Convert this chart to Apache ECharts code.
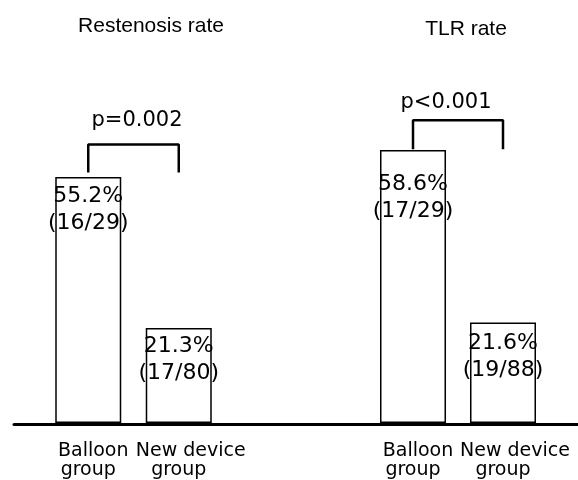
<!DOCTYPE html>
<html>
<head>
<meta charset="utf-8">
<script src="https://cdn.jsdelivr.net/npm/echarts@6/dist/echarts.min.js"></script>
<style>
  html, body { margin: 0; padding: 0; background: #fff; }
  #chart { width: 578px; height: 480px; }
</style>
</head>
<body>
<div id="chart"></div>
<script>
// data
const categories = ["Balloon group", "New device group"];
const restenosisRate = [55.2, 21.3];
const restenosisCounts = ["16/29", "17/80"];
const tlrRate = [58.6, 21.6];
const tlrCounts = ["17/29", "19/88"];
const pValues = ["p=0.002", "p<0.001"];
const bracketTop = [62.5, 65];      // height of the bracket bar
const bracketFoot = [56.2, 58.8];   // where the bracket legs stop

// layout only
const labelGap = [[6, 5], [21, 7]];
const FONT = "DejaVu Sans";

function barData(rates, counts, gaps) {
  return rates.map(function (v, i) {
    return {
      value: v,
      count: counts[i],
      label: { distance: gaps[i] },
    };
  });
}

function bracket(i) {
  return [
    [0, bracketFoot[i]],
    [0, bracketTop[i]],
    [1, bracketTop[i]],
    [1, bracketFoot[i]],
  ];
}

const barStyle = {
  color: "#fff",
  borderColor: "#000",
  borderWidth: 1.5,
};
const barLabel = {
  show: true,
  position: "insideTop",
  color: "#000",
  fontFamily: FONT,
  fontSize: 22,
  lineHeight: 27,
  formatter: function (p) {
    return p.value + "%\n(" + p.data.count + ")";
  },
};

function catAxis(gridIndex) {
  return {
    type: "category",
    gridIndex: gridIndex,
    data: categories,
    axisLine: { show: false },
    axisTick: { show: false },
    axisLabel: {
      color: "#000",
      fontFamily: FONT,
      fontSize: 19,
      lineHeight: 19,
      margin: 19,
      interval: 0,
      formatter: function (name, i) {
        let words = name.split(" ");
        let last = words.pop();
        let first = words.join(" ");
        return "{f" + i + "|" + first + "}\n{g|" + last + "}";
      },
      rich: {
        f0: { fontFamily: FONT, fontSize: 19, padding: [0, 0, 0, 10] },
        f1: { fontFamily: FONT, fontSize: 19, padding: [0, 0, 0, 24] },
        g: { fontFamily: FONT, fontSize: 19 },
      },
    },
  };
}

function valAxis(gridIndex, max) {
  return {
    type: "value",
    gridIndex: gridIndex,
    min: 0,
    max: max,
    show: false,
  };
}

const titleFont = { color: "#000", fontFamily: "Liberation Sans", fontSize: 21, fontWeight: "normal" };
const pFont = { color: "#000", fontFamily: FONT, fontSize: 21, fontWeight: "normal" };

let myChart = echarts.init(document.getElementById("chart"));
myChart.setOption({
  animation: false,
  backgroundColor: "#fff",
  title: [
    { text: "Restenosis rate", left: 146, top: 11, textAlign: "center", textStyle: titleFont },
    { text: "TLR rate", left: 461, top: 14, textAlign: "center", textStyle: titleFont },
    { text: pValues[0], left: 132, top: 105, textAlign: "center", textStyle: pFont },
    { text: pValues[1], left: 441, top: 87, textAlign: "center", textStyle: pFont },
  ],
  grid: [
    { left: 43, width: 181, bottom: 56, top: 111 },
    { left: 368, width: 180, bottom: 56, top: 97 },
    { left: 14, right: 0, bottom: 56, height: 10 },
  ],
  xAxis: [
    catAxis(0),
    catAxis(1),
    {
      type: "value",
      gridIndex: 2,
      z: 10,
      axisLine: { show: true, lineStyle: { color: "#000", width: 3 } },
      axisTick: { show: false },
      axisLabel: { show: false },
      splitLine: { show: false },
    },
  ],
  yAxis: [valAxis(0, 70), valAxis(1, 70), { type: "value", gridIndex: 2, show: false }],
  series: [
    {
      type: "bar",
      xAxisIndex: 0,
      yAxisIndex: 0,
      barWidth: 66,
      itemStyle: barStyle,
      label: barLabel,
      data: barData(restenosisRate, restenosisCounts, labelGap[0]),
    },
    {
      type: "bar",
      xAxisIndex: 1,
      yAxisIndex: 1,
      barWidth: 66,
      itemStyle: barStyle,
      label: barLabel,
      data: barData(tlrRate, tlrCounts, labelGap[1]),
    },
    {
      type: "line",
      xAxisIndex: 0,
      yAxisIndex: 0,
      symbol: "none",
      lineStyle: { color: "#000", width: 2.5 },
      data: bracket(0),
    },
    {
      type: "line",
      xAxisIndex: 1,
      yAxisIndex: 1,
      symbol: "none",
      lineStyle: { color: "#000", width: 2.5 },
      data: bracket(1),
    },
  ],
});
</script>
</body>
</html>
